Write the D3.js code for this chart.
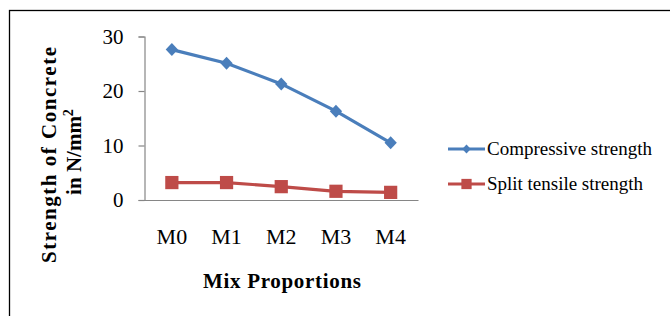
<!DOCTYPE html>
<html><head><meta charset="utf-8">
<script src="https://cdn.jsdelivr.net/npm/d3@7"></script>
<style>body{margin:0;background:#fff}svg{display:block}</style>
</head><body>
<script>
const categories = ["M0","M1","M2","M3","M4"];
const compressive = [27.6, 25.1, 21.3, 16.3, 10.5];
const splitTensile = [3.2, 3.2, 2.45, 1.6, 1.4];
const yTicks = [0, 10, 20, 30];
const seriesNames = ["Compressive strength", "Split tensile strength"];

const W = 670, H = 316;
const svg = d3.select("body").append("svg").attr("width", W).attr("height", H);
const serif = "'Liberation Serif','Times New Roman',serif";

svg.append("rect").attr("x",9.5).attr("y",10.5).attr("width",700).attr("height",400)
  .attr("fill","none").attr("stroke","#000").attr("stroke-width",1.3);

const x = d3.scaleBand().domain(categories).range([144.5, 418]);
const y = d3.scaleLinear().domain([0,30]).range([200, 36.5]);

const yAxis = svg.append("g").attr("transform","translate(144.5,0)")
  .call(d3.axisLeft(y).tickValues(yTicks).tickSize(6).tickPadding(15));
yAxis.select(".domain").attr("stroke","#868686").attr("stroke-width",1.2);
yAxis.selectAll(".tick line").attr("stroke","#868686").attr("stroke-width",1.2);
yAxis.selectAll(".tick text").attr("font-family",serif).attr("font-size",21).attr("fill","#000");

const xAxis = svg.append("g").attr("transform","translate(0,200)")
  .call(d3.axisBottom(x).tickSize(0).tickPadding(28).tickSizeOuter(0));
xAxis.select(".domain").attr("stroke","#868686").attr("stroke-width",1.2);
xAxis.selectAll(".tick text").attr("font-family",serif).attr("font-size",22).attr("fill","#000");

const diamond = { draw(ctx, size) { const r = Math.sqrt(size/2);
  ctx.moveTo(0,-r); ctx.lineTo(r*0.95,0); ctx.lineTo(0,r); ctx.lineTo(-r*0.95,0); ctx.closePath(); } };

const cx = d => x(d) + x.bandwidth()/2;
const series = [
  {name: seriesNames[0], values: compressive, color:"#4A7EBB", shape: diamond, size: 84, lsize: 40},
  {name: seriesNames[1], values: splitTensile, color:"#BE4B48", shape: d3.symbolSquare, size: 175, lsize: 105}
];
const line = d3.line().x((d,i)=>cx(categories[i])).y(d=>y(d));

series.forEach((s, si) => {
  svg.append("path").datum(s.values).attr("d", line).attr("fill","none")
    .attr("stroke", s.color).attr("stroke-width", 3.2);
  svg.selectAll(null).data(s.values).enter().append("path")
    .attr("transform",(d,i)=>`translate(${cx(categories[i])},${y(d)})`)
    .attr("d", d3.symbol().type(s.shape).size(s.size)())
    .attr("fill", s.color);
  const ly = 149 + si*35;
  svg.append("line").attr("x1",448).attr("x2",485).attr("y1",ly).attr("y2",ly)
    .attr("stroke", s.color).attr("stroke-width",3);
  svg.append("path").attr("transform",`translate(466.5,${ly})`)
    .attr("d", d3.symbol().type(s.shape).size(s.lsize)()).attr("fill", s.color);
  svg.append("text").attr("x",487).attr("y",ly+6).attr("font-family",serif)
    .attr("font-size",19).attr("textLength", si===0?165:156).attr("lengthAdjust","spacing")
    .text(s.name);
});

svg.append("text").attr("x",282).attr("y",288).attr("text-anchor","middle")
  .attr("font-family",serif).attr("font-weight","bold").attr("font-size",21)
  .attr("textLength",158).attr("lengthAdjust","spacing").text("Mix Proportions");

svg.append("text").attr("transform","translate(56,155) rotate(-90)").attr("text-anchor","middle")
  .attr("font-family",serif).attr("font-weight","bold").attr("font-size",21)
  .attr("textLength",216).attr("lengthAdjust","spacing").text("Strength of Concrete");
const t2 = svg.append("text").attr("transform","translate(81,152) rotate(-90)").attr("text-anchor","middle")
  .attr("font-family",serif).attr("font-weight","bold").attr("font-size",21);
t2.append("tspan").text("in N/mm");
t2.append("tspan").attr("font-size",14).attr("dy",-8).text("2");
</script>
</body></html>
